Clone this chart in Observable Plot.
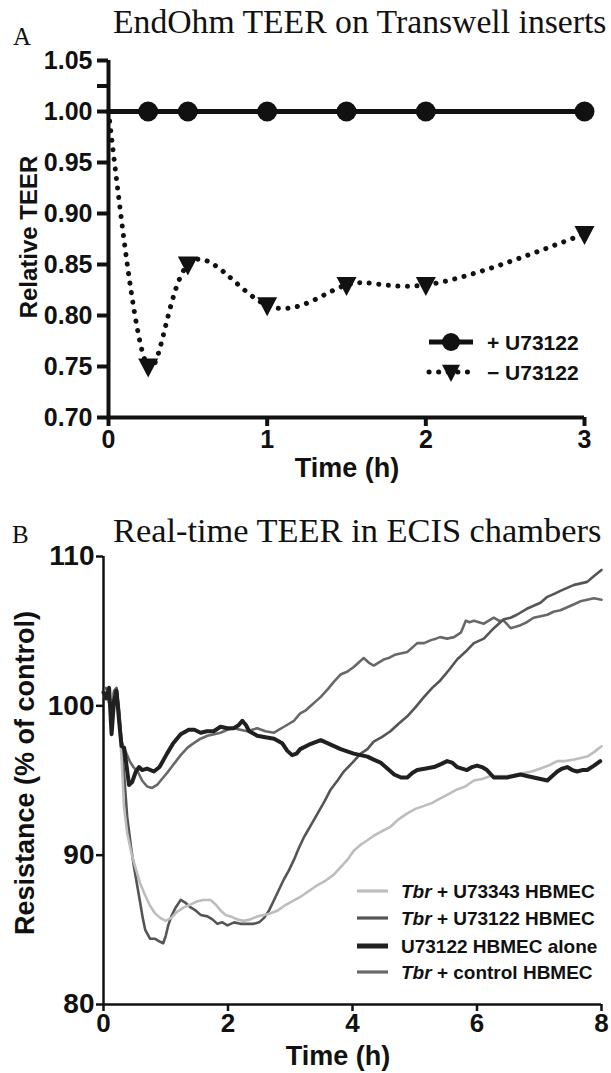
<!DOCTYPE html>
<html><head><meta charset="utf-8">
<script src="https://cdn.jsdelivr.net/npm/d3@7"></script>
<script src="https://cdn.jsdelivr.net/npm/@observablehq/plot@0.6"></script>
<style>
body{margin:0;background:#fff;}
#fig{position:relative;width:611px;height:1073px;overflow:hidden;background:#fff;}
.t{position:absolute;line-height:1;white-space:nowrap;color:#111;}
.serif{font-family:"Liberation Serif","Times New Roman",serif;}
.sans{font-family:"Liberation Sans",Arial,sans-serif;font-weight:bold;}
.cy{transform:translateY(-50%);}
.c{transform:translate(-50%,-50%);}
.rot{transform:translate(-50%,-50%) rotate(-90deg);}
.panel{position:absolute;left:0;}
.sw{position:absolute;overflow:visible;}
</style></head><body><div id="fig"></div>
<script>
// ---------------- Panel A data ----------------
const timeA = [0, 0.25, 0.5, 1, 1.5, 2, 3];
const plusU73122 = [1.00, 1.00, 1.00, 1.00, 1.00, 1.00, 1.00];
const minusU73122 = [1.00, 0.75, 0.85, 0.81, 0.83, 0.83, 0.88];
const yTicksA = [0.70, 0.75, 0.80, 0.85, 0.90, 0.95, 1.00, 1.05];
const xTicksA = [0, 1, 2, 3];
const legendA = ["+ U73122", "\u2212 U73122"];

// ---------------- Panel B data ----------------
const seriesB = ["Tbr + U73343 HBMEC", "Tbr + U73122 HBMEC", "U73122 HBMEC alone", "Tbr + control HBMEC"];
const tU73343 = [0,0.04,0.09,0.13,0.17,0.21,0.25,0.29,0.33,0.38,0.44,0.49,0.54,0.59,0.67,0.75,0.83,0.91,1.0,1.09,1.18,1.29,1.4,1.5,1.6,1.72,1.8,1.88,1.96,2.04,2.15,2.25,2.36,2.47,2.58,2.68,2.8,2.9,3.03,3.16,3.3,3.44,3.57,3.7,3.81,3.92,4.02,4.13,4.24,4.34,4.47,4.61,4.74,4.88,5.01,5.15,5.28,5.41,5.55,5.68,5.81,5.95,6.08,6.22,6.35,6.48,6.62,6.75,6.88,7.02,7.15,7.29,7.42,7.56,7.67,7.77,7.88,8.0];
const vU73343 = [100.8,101.0,100.6,99.8,100.7,100.9,99.0,96.5,93.2,91.5,90.3,89.5,88.8,88.1,87.3,86.6,86.1,85.8,85.6,85.8,86.2,86.5,86.7,86.9,87.0,87.0,86.7,86.3,86.0,85.9,85.7,85.6,85.7,85.9,86.0,86.1,86.3,86.6,86.9,87.2,87.6,88.0,88.3,88.7,89.2,89.7,90.3,90.7,91.0,91.3,91.6,91.9,92.4,92.8,93.1,93.3,93.5,93.8,94.1,94.4,94.6,95.0,95.1,95.3,95.3,95.3,95.4,95.5,95.6,95.8,96.0,96.3,96.3,96.4,96.5,96.6,96.9,97.3];
const tU73122 = [0,0.04,0.09,0.13,0.17,0.21,0.25,0.29,0.33,0.38,0.44,0.49,0.54,0.59,0.63,0.67,0.75,0.83,0.91,0.96,1.0,1.04,1.09,1.16,1.24,1.32,1.4,1.48,1.56,1.67,1.75,1.83,1.91,1.99,2.1,2.2,2.3,2.41,2.5,2.58,2.66,2.74,2.82,2.9,2.98,3.06,3.14,3.22,3.33,3.44,3.55,3.65,3.76,3.86,4.0,4.13,4.24,4.34,4.47,4.61,4.74,4.88,5.01,5.15,5.28,5.41,5.55,5.68,5.81,5.95,6.11,6.27,6.43,6.54,6.64,6.8,6.91,7.02,7.13,7.24,7.34,7.45,7.56,7.67,7.77,7.88,8.0];
const vU73122 = [100.6,101.1,100.2,99.5,101.0,101.2,99.5,97.5,95.5,92.6,90.6,89.2,88.0,86.8,85.8,85.0,84.4,84.4,84.2,84.1,84.6,85.3,85.9,86.5,87.0,86.8,86.5,86.3,86.0,85.9,85.7,85.4,85.5,85.3,85.5,85.4,85.4,85.4,85.5,85.8,86.3,87.0,87.7,88.4,89.0,89.7,90.5,91.2,92.0,92.8,93.6,94.4,95.0,95.6,96.2,96.8,97.1,97.6,97.9,98.3,98.8,99.3,99.9,100.6,101.2,101.7,102.4,103.1,103.6,104.2,104.5,105.2,105.8,105.9,106.1,106.5,106.7,106.9,107.3,107.5,107.7,107.9,108.1,108.2,108.3,108.7,109.1];
const tAlone = [0,0.04,0.09,0.13,0.17,0.21,0.25,0.29,0.33,0.37,0.41,0.46,0.52,0.57,0.62,0.7,0.81,0.9,1.02,1.12,1.24,1.37,1.46,1.56,1.66,1.77,1.88,1.99,2.09,2.17,2.23,2.29,2.34,2.47,2.6,2.74,2.87,2.95,3.03,3.1,3.16,3.3,3.49,3.65,3.81,4.02,4.13,4.24,4.34,4.45,4.56,4.67,4.78,4.88,4.96,5.04,5.18,5.31,5.42,5.52,5.6,5.68,5.84,5.92,6.0,6.08,6.16,6.27,6.38,6.48,6.59,6.7,6.8,6.91,7.02,7.13,7.21,7.29,7.37,7.45,7.53,7.61,7.69,7.77,7.88,7.98];
const vAlone = [100.9,100.5,101.2,98.1,100.4,101.0,99.0,97.3,97.2,96.0,94.7,94.9,95.6,95.9,95.7,95.8,95.6,95.9,96.8,97.5,98.1,98.4,98.4,98.2,98.3,98.3,98.6,98.5,98.5,98.7,99.0,98.7,98.3,98.0,97.9,97.8,97.5,97.0,96.7,96.8,97.1,97.4,97.7,97.4,97.1,96.8,96.7,96.6,96.4,96.2,95.8,95.4,95.2,95.2,95.5,95.7,95.8,95.9,96.1,96.3,96.2,95.9,95.7,95.9,96.0,95.9,95.7,95.2,95.2,95.2,95.3,95.4,95.3,95.2,95.1,95.0,95.3,95.6,95.8,95.9,95.7,95.6,95.7,95.7,96.0,96.3];
const tControl = [0,0.04,0.09,0.13,0.17,0.21,0.25,0.29,0.35,0.42,0.48,0.55,0.62,0.7,0.78,0.86,0.94,1.02,1.13,1.24,1.35,1.45,1.56,1.67,1.78,1.88,1.99,2.09,2.2,2.31,2.39,2.47,2.6,2.74,2.82,2.9,2.98,3.06,3.16,3.25,3.33,3.41,3.49,3.6,3.7,3.81,3.92,4.02,4.1,4.18,4.26,4.34,4.42,4.5,4.58,4.67,4.77,4.88,4.96,5.04,5.15,5.26,5.34,5.41,5.52,5.63,5.74,5.82,5.88,5.95,6.03,6.11,6.19,6.27,6.35,6.43,6.54,6.62,6.7,6.8,6.91,7.02,7.13,7.23,7.34,7.45,7.56,7.66,7.77,7.88,8.0];
const vControl = [100.7,101.2,100.9,99.3,100.9,101.1,99.8,97.6,97.0,96.3,95.9,95.6,95.0,94.6,94.5,94.7,95.1,95.5,96.1,96.7,97.2,97.5,97.8,98.0,98.1,98.2,98.4,98.5,98.4,98.3,98.4,98.5,98.3,98.2,98.4,98.6,98.8,99.0,99.5,99.7,100.0,100.3,100.6,101.1,101.6,102.1,102.3,102.6,102.9,103.2,102.9,102.7,102.9,103.1,103.2,103.4,103.5,103.6,103.9,104.2,104.2,104.4,104.5,104.6,104.5,104.6,104.9,105.7,105.6,105.7,105.6,105.5,105.7,105.9,105.7,105.7,105.2,105.3,105.4,105.6,105.9,106.0,106.1,106.3,106.4,106.6,106.8,107.0,107.1,107.2,107.1];
const yTicksB = [80, 90, 100, 110];
const xTicksB = [0, 2, 4, 6, 8];

// ---------------- helpers ----------------
const fig = d3.select("#fig");
function txt(cls, x, y, html, size) {
  return fig.append("div").attr("class", "t " + cls)
    .style("left", x + "px").style("top", y + "px")
    .style("font-size", size + "px").html(html);
}
const triDown = {draw(ctx, size) {
  const k = Math.sqrt(size / Math.PI);
  ctx.moveTo(-k, -0.8 * k); ctx.lineTo(k, -0.8 * k); ctx.lineTo(0, 1.1 * k); ctx.closePath();
}};
const sans = "'Liberation Sans', Arial, sans-serif";

// ---------------- Panel A ----------------
const rowsA = timeA.map((t, i) => ({t, plus: plusU73122[i], minus: minusU73122[i]}));
const markersA = rowsA.filter(d => d.t > 0);
const plotA = Plot.plot({
  width: 611, height: 460,
  marginTop: 60, marginBottom: 43, marginLeft: 108, marginRight: 27,
  style: {fontFamily: sans, fontWeight: "bold", background: "transparent", overflow: "visible", color: "#111"},
  x: {domain: [0, 3]},
  y: {domain: [0.70, 1.05]},
  marks: [
    Plot.axisY({ticks: yTicksA, tickFormat: d3.format(".2f"), tickSize: 11, tickPadding: 5, fontSize: 25, fontWeight: "bold", strokeWidth: 4, label: null}),
    Plot.axisY({ticks: [1.025], tickFormat: () => "", tickSize: 11, strokeWidth: 4, label: null}),
    Plot.axisX({ticks: xTicksA, tickFormat: d3.format("d"), tickSize: 9, tickPadding: 4, fontSize: 25, fontWeight: "bold", strokeWidth: 4, label: null}),
    Plot.ruleX([0], {strokeWidth: 4, stroke: "#111"}),
    Plot.ruleY([0.70], {strokeWidth: 4, stroke: "#111"}),
    Plot.line(rowsA, {x: "t", y: "minus", curve: "natural", stroke: "#111", strokeWidth: 5, strokeDasharray: "0.1 9.5", strokeLinecap: "round"}),
    Plot.line(rowsA, {x: "t", y: "plus", stroke: "#111", strokeWidth: 5}),
    Plot.dot(markersA, {x: "t", y: "plus", r: 10, fill: "#111", symbol: "circle"}),
    Plot.dot(markersA, {x: "t", y: "minus", r: 10, fill: "#111", symbol: triDown})
  ]
});
d3.select(plotA).attr("class", "panel").style("top", "0px");
fig.node().appendChild(plotA);

txt("serif", 13, 36, "A", 25).classed("cy", true);
txt("serif", 113, 22, "EndOhm TEER on Transwell inserts", 33.7).classed("cy", true);
txt("sans rot", 29, 237, "Relative TEER", 24);
txt("sans c", 347, 468, "Time (h)", 27);

// legend A
function swatchA(y, dotted, sym) {
  const s = fig.append("svg").attr("class", "sw").attr("width", 60).attr("height", 30)
    .style("left", "421px").style("top", (y - 15) + "px");
  s.append("line").attr("x1", 8).attr("x2", 52).attr("y1", 15).attr("y2", 15)
    .attr("stroke", "#111").attr("stroke-width", 5)
    .attr("stroke-dasharray", dotted ? "0.1 9.5" : null).attr("stroke-linecap", dotted ? "round" : "butt");
  s.append("path").attr("transform", "translate(30,15)")
    .attr("d", d3.symbol(sym, 81 * Math.PI)()).attr("fill", "#111");
}
swatchA(342, false, d3.symbolCircle);
swatchA(372, true, triDown);
txt("sans cy", 487, 342, legendA[0], 21);
txt("sans cy", 487, 372, legendA[1], 21);

// ---------------- Panel B ----------------
const zip = (ts, vs) => ts.map((t, i) => ({t, v: vs[i]}));
const dataB = [zip(tU73343, vU73343), zip(tU73122, vU73122), zip(tAlone, vAlone), zip(tControl, vControl)];
const colorsB = ["#bdbdbd", "#555555", "#202020", "#686868"];
const widthsB = [2.6, 2.6, 4, 2.6];
const drawOrder = [3, 1, 0, 2];
const plotB = Plot.plot({
  width: 611, height: 593,
  marginTop: 76, marginBottom: 69, marginLeft: 103, marginRight: 10,
  style: {fontFamily: sans, fontWeight: "bold", background: "transparent", overflow: "visible", color: "#111"},
  x: {domain: [0, 8]},
  y: {domain: [80, 110]},
  marks: [
    Plot.axisY({ticks: yTicksB, tickFormat: d3.format("d"), tickSize: 7, tickPadding: 2, fontSize: 28, fontWeight: "bold", strokeWidth: 2.5, label: null}),
    Plot.axisX({ticks: xTicksB, tickFormat: d3.format("d"), tickSize: 7, tickPadding: 2, fontSize: 26, fontWeight: "bold", strokeWidth: 2.5, label: null}),
    Plot.ruleX([0], {strokeWidth: 2.5, stroke: "#111"}),
    Plot.ruleY([80], {strokeWidth: 2.5, stroke: "#111"}),
    ...drawOrder.map(i => Plot.line(dataB[i], {x: "t", y: "v", stroke: colorsB[i], strokeWidth: widthsB[i], strokeLinejoin: "round"}))
  ]
});
d3.select(plotB).attr("class", "panel").style("top", "480px");
fig.node().appendChild(plotB);

txt("serif", 12, 534, "B", 25).classed("cy", true);
txt("serif", 113, 530, "Real-time TEER in ECIS chambers", 34.4).classed("cy", true);
txt("sans rot", 25, 773, "Resistance (% of control)", 27);
txt("sans c", 338, 1056, "Time (h)", 27);

// legend B
const rowY = [891, 918, 946, 972];
const labelsB = ["<i>Tbr</i> + U73343 HBMEC", "<i>Tbr</i> + U73122 HBMEC", "U73122 HBMEC alone", "<i>Tbr</i> + control HBMEC"];
rowY.forEach((y, i) => {
  const s = fig.append("svg").attr("class", "sw").attr("width", 40).attr("height", 12)
    .style("left", "353px").style("top", (y - 6) + "px");
  s.append("line").attr("x1", 4).attr("x2", 35).attr("y1", 6).attr("y2", 6)
    .attr("stroke", colorsB[i]).attr("stroke-width", i === 2 ? 5 : 3.2);
  txt("sans cy", 401, y, labelsB[i], 19).attr("title", seriesB[i]);
});
</script></body></html>
